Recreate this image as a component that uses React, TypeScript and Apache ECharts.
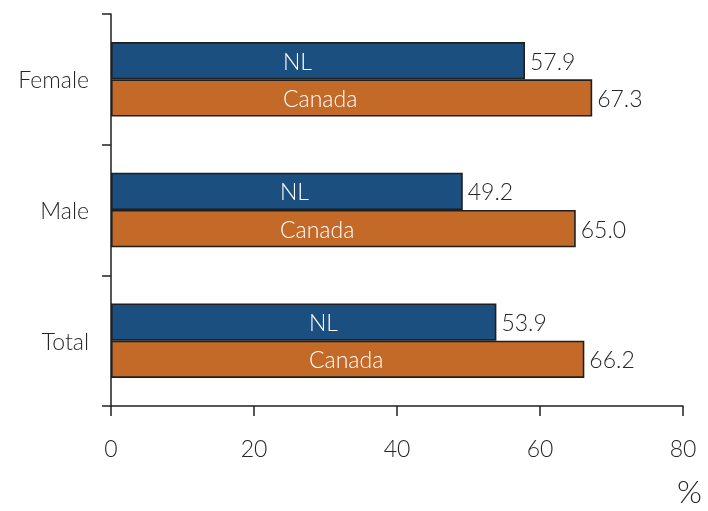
import React, { useEffect, useRef } from "react";
import * as echarts from "echarts";

// Categories listed bottom-to-top (category axis draws first item at the bottom)
const categories = ["Total", "Male", "Female"];
const nlValues = [53.9, 49.2, 57.9];
const canadaValues = [66.2, 65.0, 67.3];
const xTicks = [0, 20, 40, 60, 80];
const seriesNames = ["NL", "Canada"];

// Horizontal inset of the series-name labels inside the bars, per category
const insideLabelInset = [198, 169, 172];

const FONT = "Lato, 'Open Sans', sans-serif";
const TEXT_COLOR = "#262626";
const NL_COLOR = "#1b4f80";
const CANADA_COLOR = "#c46a29";
const EDGE = "#1f1f1f";
const FONT_SIZE = 23;

const BAR_LAYOUT = { barGap: "0%", barCategoryGap: "43%" };

export default function App() {
  const ref = useRef<HTMLDivElement>(null);

  useEffect(() => {
    if (!ref.current) return;
    const chart = echarts.init(ref.current, undefined, { renderer: "svg" });

    // Coloured bars with the value written just past the end
    const valueSeries = (name: string, values: number[], color: string) => ({
      name,
      type: "bar",
      yAxisIndex: 0,
      ...BAR_LAYOUT,
      itemStyle: { color, borderColor: EDGE, borderWidth: 1.6 },
      label: {
        show: true,
        position: "right",
        distance: 5,
        color: TEXT_COLOR,
        fontFamily: FONT,
        fontWeight: 300,
        fontSize: FONT_SIZE,
        formatter: (p: any) => Number(p.value).toFixed(1),
      },
      data: values,
    });

    // Transparent twins on a hidden axis carrying the white series name
    const nameSeries = (name: string, values: number[]) => ({
      name: name + " name",
      type: "bar",
      yAxisIndex: 1,
      ...BAR_LAYOUT,
      silent: true,
      z: 3,
      itemStyle: { color: "rgba(0,0,0,0)" },
      label: {
        show: true,
        position: "insideLeft",
        color: "#ffffff",
        fontFamily: FONT,
        fontWeight: 300,
        fontSize: FONT_SIZE,
        formatter: () => name,
      },
      data: values.map((v, i) => ({
        value: v,
        label: { distance: insideLabelInset[i] },
      })),
    });

    const axisText = {
      color: TEXT_COLOR,
      fontFamily: FONT,
      fontWeight: 300,
      fontSize: FONT_SIZE,
    };

    chart.setOption({
      animation: false,
      grid: { left: 111, right: 25, top: 14, bottom: 105, containLabel: false },
      xAxis: {
        type: "value",
        min: xTicks[0],
        max: xTicks[xTicks.length - 1],
        interval: xTicks[1] - xTicks[0],
        axisLine: { show: true, lineStyle: { color: EDGE, width: 1.5 } },
        axisTick: { show: true, length: 10, lineStyle: { color: EDGE, width: 1.5 } },
        splitLine: { show: false },
        axisLabel: { ...axisText, margin: 30 },
      },
      yAxis: [
        {
          type: "category",
          data: categories,
          axisLine: { show: true, lineStyle: { color: EDGE, width: 1.5 } },
          axisTick: { show: true, length: 9, lineStyle: { color: EDGE, width: 1.5 } },
          axisLabel: { ...axisText, margin: 22 },
        },
        {
          type: "category",
          data: categories,
          position: "left",
          show: false,
        },
      ],
      graphic: [
        {
          type: "text",
          right: 6,
          top: 474,
          style: {
            text: "%",
            fill: TEXT_COLOR,
            font: `300 32px ${FONT}`,
          },
        },
      ],
      series: [
        valueSeries(seriesNames[0], nlValues, NL_COLOR),
        valueSeries(seriesNames[1], canadaValues, CANADA_COLOR),
        nameSeries(seriesNames[0], nlValues),
        nameSeries(seriesNames[1], canadaValues),
      ],
    });

    return () => chart.dispose();
  }, []);

  return (
    <div
      ref={ref}
      style={{ position: "fixed", left: 0, top: 0, width: 708, height: 511 }}
    />
  );
}
